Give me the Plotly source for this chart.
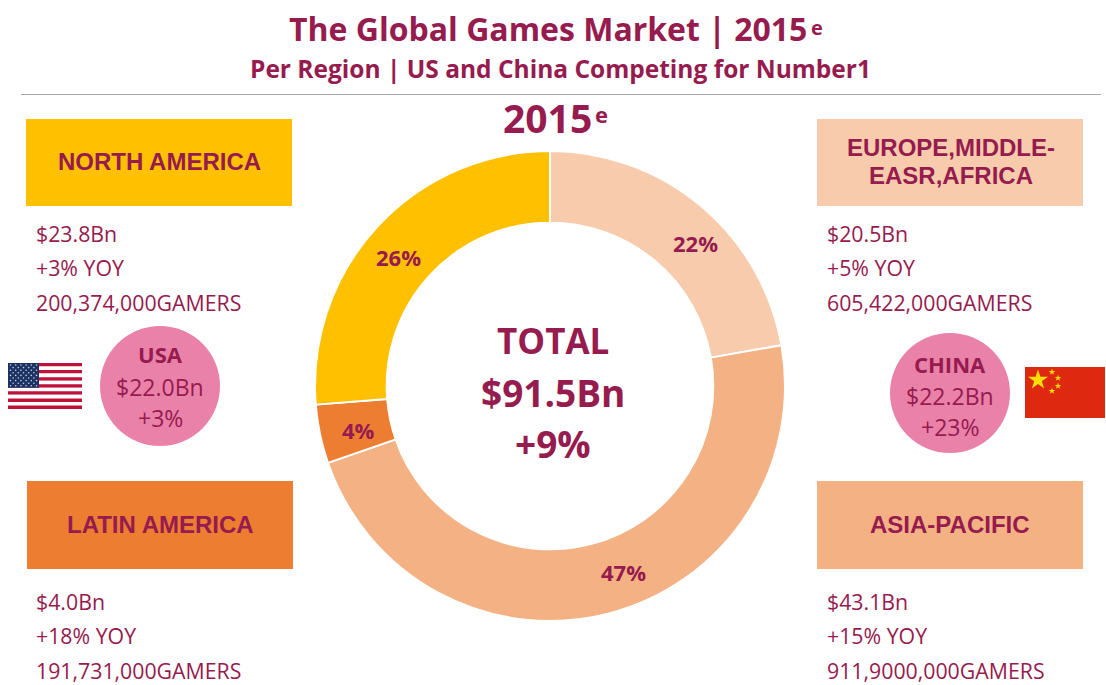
import plotly.graph_objects as go

# regions in pie order, clockwise from the top
regions = ["Europe, Middle-East, Africa", "Asia-Pacific", "Latin America", "North America"]
share_pct = [22, 47, 4, 26]
slice_colors = ["#F7CBAC", "#F4B183", "#ED7D31", "#FFC000"]

box_titles = [["NORTH AMERICA"], ["EUROPE,MIDDLE-", "EASR,AFRICA"], ["LATIN AMERICA"], ["ASIA-PACIFIC"]]
box_revenue = ["$23.8Bn", "$20.5Bn", "$4.0Bn", "$43.1Bn"]
box_growth = ["+3% YOY", "+5% YOY", "+18% YOY", "+15% YOY"]
box_gamers = ["200,374,000GAMERS", "605,422,000GAMERS", "191,731,000GAMERS", "911,9000,000GAMERS"]

circle_labels = ["USA", "CHINA"]
circle_revenue = ["$22.0Bn", "$22.2Bn"]
circle_growth = ["+3%", "+23%"]

W, H = 1106, 685
TEXT = "#961B4E"
SANS = "Open Sans"
ARIAL = "Liberation Sans"

fig = go.Figure()

# donut, domain is worked out from the pixel centre and radius
cx, cy, r = 550, 386, 235
fig.add_trace(go.Pie(
    labels=regions,
    values=share_pct,
    hole=0.695,
    sort=False,
    direction="clockwise",
    rotation=0,
    marker=dict(colors=slice_colors, line=dict(color="white", width=2)),
    textinfo="none",
    domain=dict(x=[(cx - r) / W, (cx + r) / W], y=[1 - (cy + r) / H, 1 - (cy - r) / H]),
    showlegend=False,
))


def text(x, y, s, size, bold=False, family=SANS, align="center", anchor="center"):
    fig.add_annotation(
        x=x, y=y, xref="x", yref="y", text=s, showarrow=False, align=align,
        xanchor=anchor, yanchor="middle",
        font=dict(family=family, size=size, color=TEXT, weight="bold" if bold else "normal"),
    )


def rect(x0, y0, x1, y1, color):
    fig.add_shape(type="rect", x0=x0, y0=y0, x1=x1, y1=y1, xref="x", yref="y",
                  fillcolor=color, line_width=0, layer="below")


# slice labels sit where they do in the original, not at the slice middle
label_spots = [(695, 243), (623, 572), (358, 430), (398, 257)]
for (x, y), pct in zip(label_spots, share_pct):
    text(x, y, f"{pct}%", 22, True)

# header
text(548, 28, "The Global Games Market | 2015", 32, True)
text(817, 27, "e", 20, True)
text(560, 68, "Per Region | US and China Competing for Number1", 24.5, True)
fig.add_shape(type="line", x0=21, x1=1101, y0=94.5, y1=94.5, xref="x", yref="y",
              line=dict(color="#A6A6A6", width=1))
text(547, 117, "2015", 39, True)
text(601, 114, "e", 22, True)

# centre of the donut
text(553, 340, "TOTAL", 35, True)
text(553, 392, "$91.5Bn", 37, True)
text(553, 443, "+9%", 37, True)

# region boxes and their facts
box_spots = [(26, 119, 292, 206), (817, 119, 1083, 206), (27, 481, 293, 569), (817, 481, 1083, 569)]
box_colors = ["#FFC000", "#F7CBAC", "#ED7D31", "#F4B183"]
line_ys = [(233, 267, 302), (233, 267, 302), (601, 635, 670), (601, 635, 670)]
for i, (x0, y0, x1, y1) in enumerate(box_spots):
    rect(x0, y0, x1, y1, box_colors[i])
    title_lines = box_titles[i]
    if len(title_lines) == 2:
        text((x0 + x1) / 2 + 0.5, 147, title_lines[0], 24, True, family=ARIAL)
        text((x0 + x1) / 2 + 0.5, 175, title_lines[1], 24, True, family=ARIAL)
    else:
        text((x0 + x1) / 2, (y0 + y1) / 2 - 1, title_lines[0], 24, True, family=ARIAL)
    tx = x0 + 8 if i != 2 else x0 + 7
    for y, s in zip(line_ys[i], [box_revenue[i], box_growth[i], box_gamers[i]]):
        text(tx, y, s, 21.3, align="left", anchor="left")

# pink circles
circle_spots = [(160, 386), (950, 393)]
circle_offsets = [(-32, 1, 32), (-29, 3, 34)]
for i, (x, y) in enumerate(circle_spots):
    fig.add_shape(type="circle", x0=x - 60, x1=x + 60, y0=y - 60, y1=y + 60, xref="x", yref="y",
                  fillcolor="#E981A9", line_width=0, layer="below")
    off = circle_offsets[i]
    text(x, y + off[0], circle_labels[i], 22, True)
    text(x, y + off[1], circle_revenue[i], 23)
    text(x, y + off[2], circle_growth[i], 23)

# US flag
fx0, fx1, fy0, fy1 = 8, 82, 363, 409
stripe = (fy1 - fy0) / 13
for s in range(13):
    rect(fx0, fy0 + s * stripe, fx1, fy0 + (s + 1) * stripe, "#BF1238" if s % 2 == 0 else "white")
rect(fx0, fy0, 39, fy0 + 7 * stripe, "#1C3263")
star_x, star_y = [], []
for row in range(9):
    for col in range(6 if row % 2 == 0 else 5):
        star_x.append(fx0 + 2.5 + col * 5.2 + (0 if row % 2 == 0 else 2.6))
        star_y.append(fy0 + 2 + row * 2.6)
fig.add_trace(go.Scatter(x=star_x, y=star_y, mode="markers", hoverinfo="skip", showlegend=False,
                         marker=dict(symbol="circle", size=1.6, color="#C9D2E3")))

# China flag
rect(1025, 367, 1105, 418, "#DE2910")
fig.add_trace(go.Scatter(x=[1038, 1052, 1058, 1058, 1052], y=[380, 372, 378, 386, 391],
                         mode="markers", hoverinfo="skip", showlegend=False,
                         marker=dict(symbol="star", size=[15, 5, 5, 5, 5], color="#FFDE00", opacity=1,
                                     line_width=0)))

fig.update_layout(
    width=W,
    height=H,
    margin=dict(l=0, r=0, t=0, b=0),
    paper_bgcolor="white",
    plot_bgcolor="rgba(0,0,0,0)",
    xaxis=dict(range=[0, W], visible=False, fixedrange=True),
    yaxis=dict(range=[H, 0], visible=False, fixedrange=True),
)

fig.write_html("out.html", config={"displayModeBar": False},
               post_script="document.body.style.margin='0';")
